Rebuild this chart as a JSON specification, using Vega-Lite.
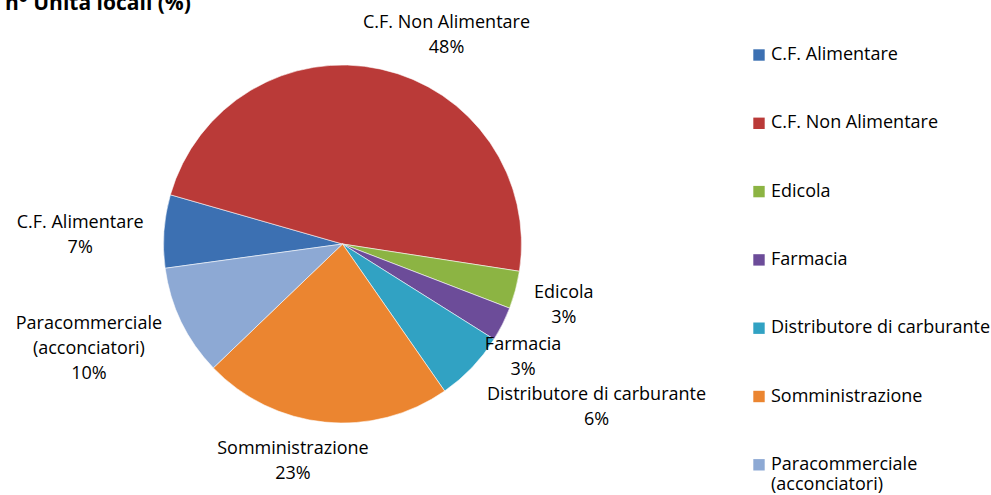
{
  "$schema": "https://vega.github.io/schema/vega-lite/v6.json",
  "width": 685,
  "height": 448,
  "autosize": {"type": "none"},
  "padding": {"left": 0, "top": 20, "right": 306, "bottom": 27},
  "background": "white",
  "title": {"text": "n° Unità locali (%)", "anchor": "start", "frame": "group", "orient": "top", "baseline": "alphabetic", "offset": -17, "dx": 5, "font": "Open Sans", "fontSize": 21, "fontWeight": "bold", "color": "#000000"},
  "data": {"values": [
    {"idx": 1, "cat": "C.F. Alimentare", "value": 6.6, "label": ["C.F. Alimentare", "7%"]},
    {"idx": 2, "cat": "C.F. Non Alimentare", "value": 48.0, "label": ["C.F. Non Alimentare", "48%"]},
    {"idx": 3, "cat": "Edicola", "value": 3.4, "label": ["Edicola", "3%"]},
    {"idx": 4, "cat": "Farmacia", "value": 3.1, "label": ["Farmacia", "3%"]},
    {"idx": 5, "cat": "Distributore di carburante", "value": 6.4, "label": ["Distributore di carburante", "6%"]},
    {"idx": 6, "cat": "Somministrazione", "value": 22.5, "label": ["Somministrazione", "23%"]},
    {"idx": 7, "cat": "Paracommerciale (acconciatori)", "value": 10.0, "label": ["Paracommerciale", "(acconciatori)", "10%"]}
  ]},
  "encoding": {
    "theta": {"field": "value", "type": "quantitative", "stack": true, "scale": {"type": "linear", "domain": [0, 100], "range": [4.5763, 10.8595]}},
    "order": {"field": "idx", "type": "quantitative"}
  },
  "layer": [
    {
      "mark": {"type": "arc", "outerRadius": 179, "stroke": "#ffffff", "strokeWidth": 0.8, "strokeOpacity": 0.7},
      "encoding": {
        "color": {
          "field": "cat", "type": "nominal",
          "scale": {
            "domain": ["C.F. Alimentare", "C.F. Non Alimentare", "Edicola", "Farmacia", "Distributore di carburante", "Somministrazione", "Paracommerciale (acconciatori)"],
            "range": ["#3C70B2", "#BA3A38", "#8CB443", "#6C4C99", "#31A2C3", "#EB8530", "#8DA9D4"]
          },
          "legend": {
            "orient": "none", "legendX": 750, "legendY": 26, "title": null,
            "symbolType": "square", "symbolSize": 130, "symbolStrokeWidth": 0, "symbolOpacity": 1,
            "labelFont": "Open Sans", "labelFontSize": 18, "labelColor": "#000000", "labelOffset": 3, "labelLimit": 300,
            "rowPadding": 50.3, "padding": 0,
            "labelExpr": "datum.label == 'Paracommerciale (acconciatori)' ? ['Paracommerciale', '(acconciatori)'] : datum.label"
          }
        }
      }
    },
    {
      "mark": {
        "type": "text", "align": "center", "baseline": "middle", "color": "#000000",
        "radius": {"expr": "[0, 262, 215, 229, 212, 260, 217, 275][datum.idx]"},
        "dx": {"expr": "[0, -1, 58, 0, -9, 66, -28, -6][datum.idx]"},
        "dy": {"expr": "[0, -2.5, -10.5, -9.5, 6.5, -28.5, -10.5, -40][datum.idx]"}
      },
      "encoding": {"detail": {"field": "cat", "type": "nominal"}, "text": {"field": "label", "type": "nominal"}}
    }
  ],
  "config": {
    "view": {"stroke": null},
    "text": {"font": "Open Sans", "fontSize": 18, "lineHeight": 25}
  }
}
